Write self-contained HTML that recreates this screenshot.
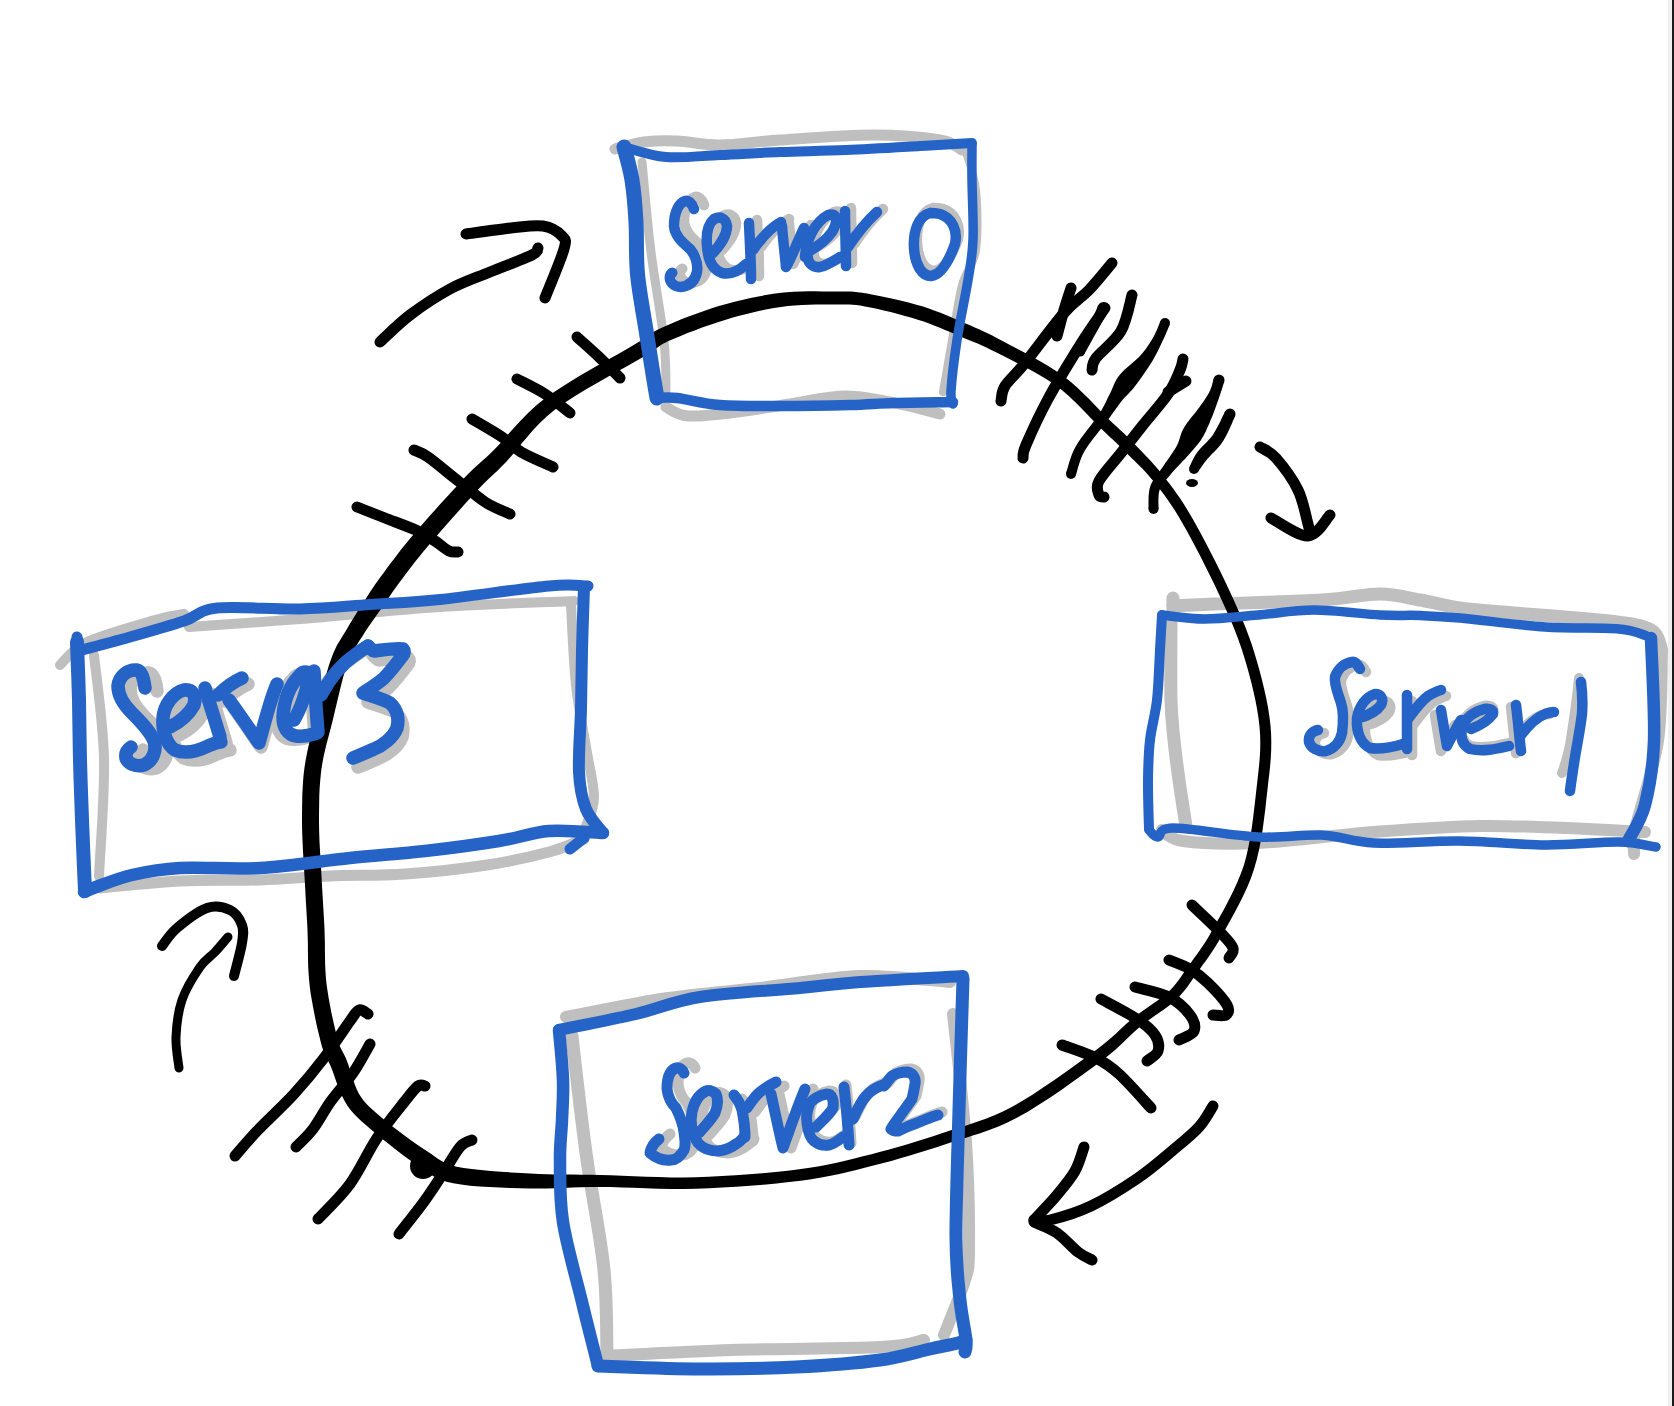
<!DOCTYPE html>
<html><head><meta charset="utf-8">
<style>
html,body{margin:0;padding:0;background:#fff;}
body{width:1674px;height:1406px;overflow:hidden;position:relative;font-family:"Liberation Sans",sans-serif;}
svg{position:absolute;left:0;top:0;}
.edge1{position:absolute;left:1668px;top:0;width:4px;height:1406px;background:#efefef;}
.edge2{position:absolute;left:1672px;top:0;width:2px;height:1406px;background:#1a1a1a;}
</style></head>
<body>
<svg width="1674" height="1406" viewBox="0 0 1674 1406" fill="none" stroke-linecap="round" stroke-linejoin="round">
<defs>
<!-- TEXT -->
<g id="t0" stroke-width="10.5">
<path id="t0_0" d="M694 209 C692 203 688 200 685 201 C679 203 674 212 674 226 C675 236 682 242 690 249 C696 256 698 264 697 272 C695 281 689 286 681 287 C673 287 669 281 670 276 C671 273 673 272 672 273"/>
<path id="t0_1" d="M713 253 C720 245 727 236 727 226 C726 218 720 216 714 219 C708 224 706 235 707 246 C708 260 713 270 722 273 C732 275 740 270 746 264"/>
<path id="t0_2" d="M749 223 C750 245 751 262 751 279 M753 250 C760 240 770 228 781 222"/>
<path id="t0_3" d="M782 226 C783 240 785 255 786 267 C793 255 798 240 804 228"/>
<path id="t0_4" d="M805 257 C806 240 815 222 828 215 C838 212 838 222 832 232 C825 242 815 248 808 252 C806 262 812 268 820 267 C828 265 835 260 840 257"/>
<path id="t0_5" d="M845 211 C845 230 846 250 846 266 M848 247 C856 235 866 222 877 212"/>
<path id="t0_6" d="M930 213 C918 216 913 232 914 248 C915 265 922 276 931 276 C942 275 950 258 955 244 C958 230 952 218 940 214 C936 213 933 213 930 213"/>
</g>
<g id="t3" stroke-width="13.5">
<path id="t3_0" d="M145 688 C144 679 142 671 137 670 C128 669 119 676 118 686 C118 696 124 705 132 713 C141 722 150 731 154 741 C157 750 153 761 144 765 C136 767 128 764 126 758 C125 752 128 749 131 747"/>
<path id="t3_1" d="M170 727 C178 723 188 716 194 705 C197 695 192 689 184 690 C173 693 164 705 163 718 C162 732 167 745 175 750 C187 755 200 750 208 746 C213 744 217 742 221 742"/>
<path id="t3_2" d="M205 688 C210 705 215 720 220 737 M218 695 C225 688 233 682 242 678"/>
<path id="t3_3" d="M229 700 C240 715 250 730 259 743 C264 725 270 700 277 684"/>
<path id="t3_4" d="M294 720 C300 710 308 690 309 673 C306 671 302 672 300 675 C290 685 284 700 283 717 C283 728 288 735 296 736 C304 737 311 735 317 733"/>
<path id="t3_5" d="M314 671 C315 690 316 710 318 732 M321 695 C328 682 340 665 355 655 C360 651 365 648 368 646"/>
<path id="t3_6" d="M368 646 C371 649 373 651 374 651 C383 650 395 648 403 649 C405 651 404 654 403 655 C397 663 390 672 384 678 C377 684 369 689 363 693 C372 696 385 700 390 703 C398 710 399 720 397 728 C393 738 382 746 374 749 C365 753 358 756 353 758"/>
</g>
<g id="t1" stroke-width="10.5">
<path id="t1_0" d="M1360 669 C1357 664 1355 661 1352 662 C1345 663 1338 668 1335 677 C1334 685 1338 693 1341 703 C1344 712 1343 725 1342 733 C1340 742 1334 749 1326 751 C1318 752 1311 748 1309 742 C1308 735 1313 731 1318 730"/>
<path id="t1_1" d="M1363 717 C1370 714 1377 711 1381 705 C1384 699 1381 694 1375 694 C1366 697 1359 706 1357 718 C1356 732 1361 744 1370 748 C1382 750 1393 747 1403 744"/>
<path id="t1_2" d="M1407 695 C1407 715 1407 732 1407 749 M1408 719 C1414 711 1420 702 1428 696 C1433 693 1437 691 1441 690"/>
<path id="t1_3" d="M1441 710 C1443 722 1445 735 1447 746 C1451 738 1456 728 1461 720"/>
<path id="t1_4" d="M1471 729 C1479 726 1488 721 1493 714 C1494 710 1490 708 1484 709 C1475 711 1465 718 1462 727 C1460 737 1462 745 1470 749 C1483 752 1496 749 1509 746"/>
<path id="t1_5" d="M1516 705 C1518 720 1519 735 1521 751 M1521 735 C1528 726 1535 718 1545 714 C1548 713 1551 712 1554 712"/>
<path id="t1_6" d="M1581 682 C1582 690 1583 700 1582 714 C1580 730 1577 745 1575 757 C1573 770 1571 782 1570 791"/>
</g>
<g id="t2" stroke-width="11">
<path id="t2_0" d="M684 1073 C682 1069 679 1067 676 1068 C670 1070 667 1078 667 1089 C668 1098 672 1104 676 1108 C680 1116 683 1124 684 1132 C685 1140 686 1146 684 1150 C680 1157 676 1160 671 1160 C663 1161 656 1158 650 1153 C651 1147 655 1142 659 1139"/>
<path id="t2_1" d="M699 1133 C705 1126 711 1120 715 1113 C718 1105 718 1098 716 1094 C712 1090 708 1090 706 1091 C698 1095 694 1102 692 1112 C690 1122 692 1134 698 1143 C704 1150 712 1151 718 1151 C726 1150 732 1147 736 1144 C740 1142 742 1139 744 1137"/>
<path id="t2_2" d="M734 1095 C738 1100 741 1106 742 1110 C744 1120 745 1128 745 1137 M747 1108 C751 1102 755 1096 760 1092 C765 1088 770 1085 776 1082"/>
<path id="t2_3" d="M771 1094 C775 1112 779 1132 783 1148 C790 1128 797 1108 805 1089"/>
<path id="t2_4" d="M816 1127 C822 1121 829 1115 833 1108 C834 1100 832 1094 827 1094 C819 1095 812 1100 810 1103 C807 1110 806 1117 807 1123 C808 1132 810 1138 814 1141 C819 1145 824 1146 829 1145 C834 1144 839 1140 843 1137"/>
<path id="t2_5" d="M844 1087 C846 1105 848 1125 849 1145 M853 1119 C857 1110 861 1101 866 1096 C871 1090 877 1087 883 1085"/>
<path id="t2_6" d="M884 1086 C887 1082 889 1079 892 1076 C897 1073 902 1072 907 1072 C913 1073 916 1078 915 1084 C914 1090 913 1095 912 1099 C908 1105 905 1109 902 1113 C898 1119 894 1124 891 1129 C893 1131 895 1131 898 1131 C904 1128 911 1125 917 1123 C924 1120 931 1117 938 1115"/>
</g>
</defs>
<g stroke="#bfbfbf" stroke-width="11">
<path d="M615 149 C619.8 147.8 633.7 143.3 644 142 C654.3 140.7 664.3 140.5 677 141 C689.7 141.5 702.8 145.2 720 145 C737.2 144.8 754.5 141.7 780 140 C805.5 138.3 846.3 135.0 873 135 C899.7 135.0 925.2 137.5 940 140 C954.8 142.5 958.3 148.3 962 150" stroke-width="11"/>
<path d="M642 162 C643.5 177.0 647.3 222.2 651 252 C654.7 281.8 661.5 317.8 664 341 C666.5 364.2 665.7 382.7 666 391" stroke-width="9"/>
<path d="M966 152 C967.7 158.3 974.3 173.7 976 190 C977.7 206.3 978.3 234.2 976 250 C973.7 265.8 966.0 270.0 962 285 C958.0 300.0 955.2 322.2 952 340 C948.8 357.8 944.5 383.3 943 392" stroke-width="8"/>
<path d="M666 407 C669.7 408.5 676.0 415.2 688 416 C700.0 416.8 721.0 414.0 738 412 C755.0 410.0 772.0 406.7 790 404 C808.0 401.3 827.7 396.0 846 396 C864.3 396.0 884.3 401.0 900 404 C915.7 407.0 933.3 412.3 940 414" stroke-width="11"/>
<path d="M60 665 C64.5 661.2 71.2 649.5 87 642 C102.8 634.5 138.8 624.7 155 620 C171.2 615.3 179.2 615.0 184 614" stroke-width="10"/>
<path d="M189 627 C207.5 625.7 258.2 622.3 300 619 C341.8 615.7 394.3 610.0 440 607 C485.7 604.0 551.7 602.0 574 601" stroke-width="10"/>
<path d="M94 655 C95.7 672.3 103.2 722.2 104 759 C104.8 795.8 99.8 856.5 99 876" stroke-width="10"/>
<path d="M571 605 C571.8 618.3 573.5 661.3 576 685 C578.5 708.7 583.0 728.3 586 747 C589.0 765.7 594.0 783.8 594 797 C594.0 810.2 587.3 821.2 586 826" stroke-width="10"/>
<path d="M100 888 C113.3 886.8 153.3 882.3 180 881 C206.7 879.7 235.0 880.8 260 880 C285.0 879.2 305.8 877.0 330 876 C354.2 875.0 378.8 875.8 405 874 C431.2 872.2 463.0 868.7 487 865 C511.0 861.3 532.8 856.3 549 852 C565.2 847.7 578.2 841.2 584 839" stroke-width="11"/>
<path d="M1173 598 L1173 610" stroke-width="13"/>
<path d="M1173 606 C1180.0 605.7 1190.2 605.0 1215 604 C1239.8 603.0 1294.5 601.7 1322 600 C1349.5 598.3 1363.7 594.0 1380 594 C1396.3 594.0 1406.7 597.7 1420 600 C1433.3 602.3 1446.3 606.0 1460 608 C1473.7 610.0 1477.2 609.8 1502 612 C1526.8 614.2 1584.2 618.0 1609 621 C1633.8 624.0 1642.2 625.0 1651 630 C1659.8 635.0 1660.2 647.5 1662 651" stroke-width="13"/>
<path d="M1171 623 C1171.0 635.8 1170.5 680.5 1171 700 C1171.5 719.5 1172.7 726.7 1174 740 C1175.3 753.3 1177.0 765.7 1179 780 C1181.0 794.3 1184.8 818.3 1186 826" stroke-width="13"/>
<path d="M1662 651 C1661.3 666.0 1662.3 711.8 1658 741 C1653.7 770.2 1640.0 807.2 1636 826 C1632.0 844.8 1634.3 849.3 1634 854" stroke-width="12"/>
<path d="M1162 830 C1165.5 831.8 1167.0 838.8 1183 841 C1199.0 843.2 1226.2 844.5 1258 843 C1289.8 841.5 1336.8 834.8 1374 832 C1411.2 829.2 1445.5 826.5 1481 826 C1516.5 825.5 1559.7 828.0 1587 829 C1614.3 830.0 1635.3 831.5 1645 832" stroke-width="12"/>
<path d="M566 1017 C583.0 1013.8 635.7 1002.8 668 998 C700.3 993.2 728.0 991.7 760 988 C792.0 984.3 828.3 977.0 860 976 C891.7 975.0 935.0 981.0 950 982" stroke-width="12"/>
<path d="M572 1036 C572.8 1043.3 574.5 1059.3 577 1080 C579.5 1100.7 582.5 1128.3 587 1160 C591.5 1191.7 600.7 1237.3 604 1270 C607.3 1302.7 606.5 1341.7 607 1356" stroke-width="13"/>
<path d="M953 1014 C955.2 1035.3 963.3 1102.7 966 1142 C968.7 1181.3 969.2 1227.0 969 1250 C968.8 1273.0 968.2 1268.3 965 1280 C961.8 1291.7 953.5 1310.8 950 1320 C946.5 1329.2 945.0 1332.5 944 1335" stroke-width="12"/>
<path d="M604 1356 C625.3 1355.0 686.0 1351.5 732 1350 C778.0 1348.5 848.0 1348.7 880 1347 C912.0 1345.3 916.7 1341.2 924 1340" stroke-width="12"/>
<use href="#t0_0" stroke-width="10.5" transform="translate(10,-4)"/>
<use href="#t0_1" stroke-width="10.5" transform="translate(9,-3)"/>
<use href="#t0_2" stroke-width="10.5" transform="translate(8,-3)"/>
<use href="#t0_3" stroke-width="10.5" transform="translate(7,-3)"/>
<use href="#t0_4" stroke-width="10.5" transform="translate(6,-3)"/>
<use href="#t0_5" stroke-width="10.5" transform="translate(6,-3)"/>
<use href="#t0_6" stroke-width="10.5" transform="translate(3,-5)"/>
<use href="#t3_0" stroke-width="13.5" transform="translate(12,3)"/>
<use href="#t3_1" stroke-width="13.5" transform="translate(9,8)"/>
<use href="#t3_2" stroke-width="13.5" transform="translate(6,6)"/>
<use href="#t3_3" stroke-width="13.5" transform="translate(2,4)"/>
<use href="#t3_4" stroke-width="13.5" transform="translate(-6,3)"/>
<use href="#t3_5" stroke-width="13.5" transform="translate(-3,3)"/>
<use href="#t3_6" stroke-width="13.5" transform="translate(5,9)"/>
<use href="#t1_0" stroke-width="10.5" transform="translate(6,3)"/>
<use href="#t1_1" stroke-width="10.5" transform="translate(8,7)"/>
<use href="#t1_2" stroke-width="10.5" transform="translate(5,6)"/>
<use href="#t1_3" stroke-width="10.5" transform="translate(-6,5)"/>
<use href="#t1_4" stroke-width="10.5" transform="translate(0,-3)"/>
<use href="#t1_5" stroke-width="10.5" transform="translate(-5,2)"/>
<use href="#t2_0" stroke-width="11" transform="translate(11,-5)"/>
<use href="#t2_1" stroke-width="11" transform="translate(10,2)"/>
<use href="#t2_2" stroke-width="11" transform="translate(8,4)"/>
<use href="#t2_3" stroke-width="11" transform="translate(8,0)"/>
<use href="#t2_4" stroke-width="11" transform="translate(3,-3)"/>
<use href="#t2_5" stroke-width="11" transform="translate(2,-2)"/>
<use href="#t2_6" stroke-width="11" transform="translate(4,-3)"/>
<path d="M1579 678 C1577 700 1574 720 1570 745 C1567 760 1564 768 1562 773" stroke-width="10"/>
</g>
<path fill="#000" stroke="none" fill-rule="nonzero" d="M780.9 306.9 L787.8 306.1 L794.7 305.5 L801.8 305.1 L808.8 304.8 L815.6 304.6 L822.1 304.6 L828.3 304.5 L834.0 304.5 L838.9 304.5 L843.0 304.4 L846.6 304.4 L849.7 304.5 L852.8 304.7 L856.2 305.0 L860.1 305.6 L864.9 306.4 L870.5 307.5 L876.8 308.8 L883.7 310.4 L890.7 312.1 L897.9 314.0 L905.0 315.9 L911.7 317.8 L917.9 319.7 L923.7 321.6 L929.2 323.6 L934.6 325.7 L939.9 327.8 L945.0 329.9 L950.1 332.1 L955.2 334.3 L960.3 336.4 L965.0 338.4 L969.4 340.2 L973.6 341.9 L977.7 343.6 L981.9 345.5 L986.4 347.5 L991.3 349.9 L997.0 352.8 L1003.5 356.1 L1010.8 359.7 L1018.5 363.7 L1026.5 367.8 L1034.6 372.2 L1042.4 376.7 L1049.7 381.2 L1056.4 385.8 L1062.7 390.7 L1068.8 396.0 L1074.8 401.7 L1080.6 407.5 L1086.2 413.2 L1091.4 418.7 L1096.3 423.8 L1100.8 428.3 L1104.7 432.0 L1107.8 434.9 L1110.4 437.4 L1112.8 439.5 L1114.9 441.6 L1117.2 443.7 L1119.7 446.2 L1122.7 449.2 L1126.2 452.7 L1130.0 456.4 L1133.9 460.2 L1137.9 464.2 L1142.0 468.3 L1146.0 472.6 L1149.9 477.0 L1153.7 481.5 L1157.4 486.0 L1160.9 490.5 L1164.3 495.0 L1167.7 499.7 L1171.1 504.7 L1174.6 510.1 L1178.3 516.1 L1182.2 522.8 L1186.5 530.3 L1191.1 538.7 L1195.9 547.8 L1200.9 557.3 L1205.7 566.9 L1210.5 576.4 L1214.9 585.6 L1219.0 594.3 L1222.8 602.4 L1226.3 610.2 L1229.6 617.7 L1232.7 625.1 L1235.7 632.5 L1238.5 639.9 L1241.2 647.6 L1243.7 655.6 L1246.3 664.1 L1248.8 673.0 L1251.2 682.0 L1253.4 691.2 L1255.4 700.3 L1257.1 709.3 L1258.5 718.1 L1259.5 726.5 L1260.1 734.5 L1260.3 742.1 L1260.2 749.4 L1259.8 756.8 L1259.2 764.2 L1258.4 771.8 L1257.5 779.8 L1256.5 788.4 L1255.5 797.5 L1254.4 807.1 L1253.2 817.0 L1251.9 827.0 L1250.3 837.0 L1248.4 846.9 L1246.3 856.4 L1243.8 865.4 L1240.7 874.1 L1237.1 882.8 L1233.1 891.6 L1228.8 900.1 L1224.4 908.4 L1220.1 916.2 L1215.9 923.6 L1212.2 930.3 L1208.9 936.2 L1205.7 941.4 L1202.7 946.1 L1199.8 950.3 L1197.0 954.3 L1194.2 958.1 L1191.4 961.9 L1188.5 965.8 L1185.8 969.7 L1183.3 973.3 L1181.0 976.7 L1178.7 979.9 L1176.4 982.9 L1174.0 985.9 L1171.3 988.9 L1168.2 992.0 L1164.8 995.0 L1161.0 998.0 L1156.9 1001.0 L1152.5 1004.1 L1147.9 1007.2 L1143.2 1010.5 L1138.4 1014.0 L1133.5 1017.7 L1129.0 1021.6 L1124.7 1025.3 L1120.7 1029.1 L1116.6 1032.9 L1112.1 1037.0 L1107.1 1041.3 L1101.3 1046.0 L1094.4 1051.2 L1086.1 1057.3 L1076.5 1064.2 L1066.1 1071.7 L1055.1 1079.5 L1043.9 1087.1 L1032.8 1094.4 L1022.1 1101.1 L1012.2 1106.7 L1002.9 1111.4 L993.9 1115.4 L985.1 1119.0 L976.3 1122.1 L967.7 1125.0 L958.9 1127.8 L950.1 1130.6 L941.2 1133.5 L932.3 1136.5 L923.5 1139.3 L914.7 1142.1 L905.9 1144.8 L897.1 1147.3 L888.3 1149.8 L879.5 1152.1 L870.6 1154.4 L861.9 1156.6 L853.4 1158.8 L845.2 1160.8 L836.8 1162.7 L828.3 1164.5 L819.3 1166.2 L809.7 1167.8 L799.3 1169.3 L787.8 1170.7 L775.5 1172.0 L762.5 1173.2 L749.1 1174.3 L735.4 1175.3 L721.9 1176.1 L708.6 1176.8 L695.8 1177.3 L683.4 1177.5 L670.9 1177.4 L658.4 1177.1 L646.1 1176.7 L634.0 1176.2 L622.2 1175.8 L610.9 1175.3 L600.1 1175.0 L590.0 1174.8 L580.7 1174.7 L572.0 1174.6 L563.6 1174.5 L555.4 1174.4 L547.3 1174.2 L539.0 1173.9 L530.3 1173.5 L520.9 1173.0 L511.0 1172.4 L500.8 1171.7 L490.7 1171.0 L481.0 1170.1 L471.8 1169.1 L463.7 1168.0 L456.7 1166.7 L451.3 1165.3 L447.0 1163.8 L443.7 1162.3 L440.8 1160.6 L437.9 1158.7 L434.7 1156.4 L431.0 1153.8 L426.7 1150.9 L422.1 1147.9 L417.3 1144.7 L412.3 1141.2 L407.2 1137.6 L402.1 1133.8 L397.2 1130.1 L392.5 1126.4 L388.1 1122.8 L383.9 1119.4 L379.8 1116.0 L376.0 1112.8 L372.3 1109.6 L369.0 1106.5 L365.9 1103.3 L363.1 1100.0 L360.7 1096.6 L358.5 1092.9 L356.5 1088.7 L354.7 1084.2 L353.1 1079.5 L351.5 1074.7 L350.0 1069.9 L348.5 1065.2 L346.9 1060.8 L345.3 1057.0 L343.8 1054.0 L342.5 1051.5 L341.4 1049.4 L340.4 1047.4 L339.4 1045.0 L338.4 1041.9 L337.2 1037.8 L335.9 1032.5 L334.4 1026.3 L332.9 1019.5 L331.3 1012.2 L329.9 1004.7 L328.5 997.2 L327.4 989.9 L326.4 983.0 L325.8 976.5 L325.4 969.9 L325.1 963.4 L325.0 956.7 L324.9 950.1 L324.9 943.3 L324.7 936.5 L324.5 929.6 L324.2 922.8 L323.8 916.0 L323.4 909.3 L323.0 902.5 L322.6 895.8 L322.2 889.0 L321.8 882.3 L321.5 875.5 L321.1 868.8 L320.7 862.0 L320.3 855.2 L319.9 848.5 L319.5 841.8 L319.3 835.2 L319.1 828.6 L319.0 822.0 L319.0 815.3 L319.1 808.5 L319.2 801.8 L319.3 795.2 L319.6 788.6 L320.1 782.0 L320.7 775.5 L321.4 769.2 L322.4 762.9 L323.6 756.6 L325.0 750.4 L326.5 744.1 L328.2 737.7 L329.9 731.3 L331.6 724.7 L333.3 718.0 L334.9 711.1 L336.6 704.0 L338.3 696.8 L340.0 689.7 L341.7 682.7 L343.5 676.1 L345.3 670.1 L347.0 664.8 L348.7 660.3 L350.4 656.5 L352.1 653.0 L353.9 649.9 L355.7 646.8 L357.7 643.6 L359.9 640.1 L362.3 636.4 L364.7 632.6 L367.3 628.6 L370.1 624.6 L372.9 620.5 L375.7 616.4 L378.5 612.5 L381.2 608.7 L383.7 605.2 L385.9 602.0 L387.8 599.1 L389.5 596.5 L391.2 594.1 L392.9 591.6 L394.7 588.9 L396.9 586.0 L399.4 582.5 L402.3 578.7 L405.2 574.7 L408.4 570.6 L411.7 566.2 L415.3 561.6 L419.2 556.7 L423.4 551.5 L428.1 546.0 L433.4 539.8 L439.4 532.7 L446.0 525.2 L452.8 517.5 L459.6 509.9 L466.2 502.6 L472.3 495.9 L477.5 490.2 L481.9 485.6 L485.4 482.0 L488.5 479.0 L491.4 476.3 L494.4 473.5 L497.7 470.4 L501.5 466.6 L506.1 461.9 L511.2 456.3 L516.4 450.1 L521.6 443.6 L527.2 436.9 L533.1 430.0 L539.6 423.2 L546.7 416.5 L554.5 410.0 L563.9 403.3 L575.1 396.1 L587.4 388.6 L600.2 381.2 L612.8 374.0 L624.7 367.4 L635.3 361.4 L643.9 356.4 L650.1 352.5 L654.5 349.6 L657.5 347.5 L659.6 346.0 L661.0 345.0 L662.5 344.0 L665.0 342.7 L669.1 340.8 L674.5 338.5 L680.7 335.9 L687.5 333.1 L694.7 330.4 L702.1 327.6 L709.6 324.9 L717.0 322.4 L724.2 320.2 L731.2 318.1 L738.3 316.1 L745.5 314.2 L752.7 312.4 L759.9 310.8 L767.0 309.3 L774.0 308.0 Z M771.8 294.1 L764.4 295.3 L757.0 296.7 L749.5 298.2 L742.0 299.9 L734.6 301.8 L727.2 303.7 L719.8 305.8 L712.4 308.1 L704.7 310.7 L697.0 313.4 L689.3 316.3 L681.9 319.1 L675.0 322.0 L668.6 324.7 L662.9 327.2 L658.5 329.2 L655.2 330.9 L652.7 332.4 L650.7 333.9 L648.7 335.4 L646.1 337.2 L642.1 339.9 L636.1 343.6 L627.8 348.4 L617.4 354.4 L605.5 361.1 L592.8 368.3 L579.8 375.8 L567.3 383.4 L555.6 390.9 L545.5 398.0 L536.7 405.0 L528.8 412.2 L521.7 419.4 L515.2 426.4 L509.3 433.1 L503.8 439.4 L498.7 445.1 L493.9 450.1 L489.5 454.3 L485.8 457.7 L482.6 460.6 L479.6 463.2 L476.5 466.0 L473.0 469.2 L469.1 473.1 L464.5 477.8 L459.0 483.7 L452.8 490.4 L446.1 497.7 L439.2 505.3 L432.3 513.1 L425.6 520.6 L419.4 527.7 L413.9 534.0 L409.1 539.7 L404.8 545.1 L400.7 550.1 L397.0 554.9 L393.6 559.4 L390.4 563.6 L387.4 567.6 L384.6 571.5 L382.0 575.0 L379.7 578.1 L377.7 580.9 L375.8 583.6 L374.1 586.1 L372.3 588.8 L370.4 591.6 L368.3 594.8 L366.0 598.4 L363.4 602.3 L360.8 606.4 L358.1 610.6 L355.4 614.9 L352.7 619.3 L350.1 623.5 L347.7 627.6 L345.6 631.2 L343.5 634.6 L341.4 637.9 L339.3 641.4 L337.1 645.1 L335.1 649.3 L333.0 653.9 L331.0 659.2 L329.0 665.1 L327.1 671.6 L325.3 678.5 L323.5 685.6 L321.7 692.9 L320.0 700.1 L318.4 707.2 L316.7 714.0 L315.1 720.5 L313.4 726.9 L311.7 733.4 L310.0 739.9 L308.4 746.5 L307.0 753.2 L305.7 760.0 L304.6 766.8 L303.7 773.8 L303.1 780.7 L302.7 787.6 L302.3 794.6 L302.2 801.5 L302.1 808.4 L302.0 815.2 L302.0 822.0 L302.1 828.9 L302.3 835.8 L302.6 842.7 L302.9 849.5 L303.3 856.3 L303.7 863.0 L304.1 869.7 L304.5 876.5 L304.9 883.2 L305.3 890.0 L305.6 896.7 L306.0 903.5 L306.4 910.2 L306.8 917.0 L307.2 923.7 L307.5 930.4 L307.7 937.0 L307.9 943.6 L307.9 950.3 L308.0 957.0 L308.1 963.8 L308.4 970.8 L308.9 977.8 L309.6 985.0 L310.5 992.4 L311.8 1000.0 L313.2 1007.8 L314.7 1015.6 L316.2 1023.1 L317.8 1030.1 L319.4 1036.5 L320.8 1042.2 L322.1 1047.0 L323.5 1050.9 L324.8 1054.2 L326.1 1057.0 L327.4 1059.4 L328.5 1061.7 L329.8 1064.2 L331.1 1067.2 L332.6 1070.9 L334.1 1075.2 L335.7 1080.0 L337.5 1085.0 L339.5 1090.2 L341.8 1095.4 L344.4 1100.6 L347.3 1105.4 L350.6 1109.9 L354.1 1114.0 L357.8 1117.8 L361.7 1121.4 L365.6 1124.8 L369.6 1128.2 L373.7 1131.7 L377.9 1135.2 L382.4 1138.9 L387.2 1142.8 L392.2 1146.8 L397.3 1150.8 L402.5 1154.7 L407.6 1158.4 L412.6 1162.0 L417.3 1165.1 L421.3 1167.8 L424.7 1170.3 L428.1 1172.8 L431.7 1175.3 L435.9 1177.6 L440.8 1179.8 L446.5 1181.7 L453.3 1183.3 L461.1 1184.6 L470.0 1185.7 L479.6 1186.5 L489.6 1187.1 L500.0 1187.6 L510.3 1188.0 L520.3 1188.3 L529.7 1188.5 L538.7 1188.6 L547.2 1188.5 L555.5 1188.3 L563.8 1188.0 L572.2 1187.6 L580.8 1187.3 L590.0 1187.1 L599.9 1187.0 L610.5 1187.1 L621.8 1187.4 L633.5 1187.8 L645.7 1188.3 L658.1 1188.7 L670.8 1188.9 L683.5 1189.0 L696.2 1188.7 L709.1 1188.3 L722.5 1187.6 L736.2 1186.8 L749.9 1185.8 L763.5 1184.7 L776.6 1183.4 L789.1 1182.1 L800.7 1180.7 L811.4 1179.2 L821.3 1177.5 L830.5 1175.8 L839.3 1173.9 L847.8 1172.0 L856.2 1169.9 L864.7 1167.8 L873.4 1165.6 L882.4 1163.3 L891.3 1160.9 L900.2 1158.3 L909.1 1155.7 L918.0 1153.1 L926.9 1150.3 L935.9 1147.4 L944.8 1144.5 L953.6 1141.6 L962.4 1138.9 L971.2 1136.1 L980.2 1133.2 L989.2 1130.0 L998.5 1126.4 L1008.0 1122.2 L1017.8 1117.3 L1028.2 1111.4 L1039.2 1104.6 L1050.6 1097.2 L1062.0 1089.4 L1073.1 1081.6 L1083.6 1074.0 L1093.2 1067.0 L1101.6 1060.8 L1108.7 1055.3 L1114.8 1050.3 L1119.9 1045.6 L1124.4 1041.3 L1128.5 1037.3 L1132.4 1033.5 L1136.3 1029.9 L1140.5 1026.3 L1145.0 1022.8 L1149.5 1019.4 L1154.1 1016.2 L1158.7 1013.1 L1163.2 1009.9 L1167.6 1006.8 L1171.8 1003.5 L1175.8 1000.0 L1179.3 996.5 L1182.3 993.1 L1185.1 989.7 L1187.6 986.4 L1190.0 983.0 L1192.4 979.5 L1194.8 975.9 L1197.5 972.2 L1200.2 968.4 L1203.0 964.6 L1205.9 960.7 L1208.8 956.6 L1211.9 952.1 L1215.0 947.2 L1218.3 941.8 L1221.8 935.7 L1225.5 929.0 L1229.7 921.6 L1234.1 913.6 L1238.6 905.1 L1243.0 896.3 L1247.2 887.2 L1251.0 878.0 L1254.2 868.6 L1256.9 859.1 L1259.2 849.1 L1261.1 838.9 L1262.8 828.6 L1264.1 818.4 L1265.4 808.4 L1266.4 798.7 L1267.5 789.6 L1268.4 781.1 L1269.4 773.0 L1270.2 765.2 L1270.8 757.5 L1271.2 749.8 L1271.3 742.0 L1271.1 733.9 L1270.5 725.5 L1269.4 716.6 L1268.0 707.4 L1266.2 698.1 L1264.1 688.7 L1261.8 679.3 L1259.4 670.1 L1256.8 661.1 L1254.3 652.4 L1251.6 644.1 L1248.8 636.2 L1245.9 628.5 L1242.9 620.9 L1239.7 613.4 L1236.3 605.7 L1232.8 597.9 L1229.0 589.7 L1224.9 580.9 L1220.3 571.6 L1215.6 561.9 L1210.6 552.2 L1205.7 542.7 L1200.8 533.5 L1196.1 525.0 L1191.8 517.2 L1187.7 510.4 L1183.9 504.2 L1180.2 498.6 L1176.6 493.4 L1173.1 488.5 L1169.5 483.8 L1166.0 479.2 L1162.3 474.5 L1158.4 469.8 L1154.3 465.1 L1150.3 460.6 L1146.2 456.2 L1142.2 452.0 L1138.3 448.0 L1134.7 444.3 L1131.3 440.8 L1128.2 437.7 L1125.6 435.1 L1123.3 432.8 L1121.0 430.7 L1118.6 428.5 L1116.0 426.1 L1112.9 423.2 L1109.2 419.7 L1104.8 415.4 L1100.0 410.4 L1094.8 404.9 L1089.1 399.1 L1083.1 393.2 L1076.9 387.2 L1070.3 381.5 L1063.6 376.2 L1056.4 371.2 L1048.7 366.3 L1040.6 361.5 L1032.5 356.9 L1024.4 352.5 L1016.7 348.4 L1009.5 344.7 L1003.0 341.2 L997.3 338.2 L992.2 335.6 L987.5 333.3 L983.2 331.2 L979.0 329.3 L974.8 327.5 L970.5 325.6 L965.7 323.6 L960.8 321.4 L955.7 319.2 L950.6 317.0 L945.3 314.7 L939.8 312.5 L934.1 310.4 L928.2 308.3 L922.1 306.3 L915.5 304.4 L908.5 302.5 L901.3 300.7 L893.9 299.0 L886.6 297.4 L879.6 295.9 L873.0 294.7 L867.1 293.6 L862.1 292.8 L857.7 292.2 L853.9 291.8 L850.3 291.6 L846.7 291.5 L843.0 291.5 L838.9 291.5 L834.0 291.5 L828.4 291.4 L822.1 291.4 L815.5 291.3 L808.5 291.3 L801.2 291.5 L793.9 291.8 L786.4 292.3 L779.1 293.1 Z"/>
<circle cx="423" cy="1166" r="13" fill="#000"/>
<g stroke="#2563c6">
<use href="#t0"/><use href="#t3"/><use href="#t1"/><use href="#t2"/>
</g>
<g stroke="#2563c6" stroke-width="11">
<path d="M624 147 C631.0 148.7 650.0 155.7 666 157 C682.0 158.3 701.0 155.8 720 155 C739.0 154.2 759.0 152.8 780 152 C801.0 151.2 822.7 151.0 846 150 C869.3 149.0 899.0 147.2 920 146 C941.0 144.8 963.3 143.5 972 143" stroke-width="10"/>
<path d="M624 147 C625.3 152.5 630.0 167.5 632 180 C634.0 192.5 635.1 206.3 636 222 C636.9 237.7 635.8 256.0 637.5 274 C639.2 292.0 643.4 313.3 646 330 C648.6 346.7 651.2 362.7 653 374 C654.8 385.3 656.3 394.0 657 398" stroke-width="15"/>
<path d="M657 398 C660.3 398.0 666.5 396.8 677 398 C687.5 399.2 702.8 403.7 720 405 C737.2 406.3 758.3 406.0 780 406 C801.7 406.0 831.0 405.5 850 405 C869.0 404.5 876.8 403.5 894 403 C911.2 402.5 943.2 402.2 953 402" stroke-width="10.5"/>
<path d="M972 145 C972.0 150.8 971.8 164.2 972 180 C972.2 195.8 973.7 223.3 973 240 C972.3 256.7 970.7 263.3 968 280 C965.3 296.7 959.8 321.5 957 340 C954.2 358.5 951.7 380.3 951 391 C950.3 401.7 952.7 401.8 953 404" stroke-width="9.5"/>
<path d="M78 651 C86.7 648.7 112.3 642.0 130 637 C147.7 632.0 169.5 625.8 184 621 C198.5 616.2 197.7 610.0 217 608 C236.3 606.0 274.5 609.6 300 609 C325.5 608.4 346.7 606.1 370 604.5 C393.3 602.9 410.2 602.6 440 599.5 C469.8 596.4 524.3 588.2 549 586 C573.7 583.8 581.5 586.0 588 586" stroke-width="11"/>
<path d="M77 637 L80 651" stroke-width="11"/>
<path d="M77 642 C77.3 651.7 78.5 680.3 79 700 C79.5 719.7 79.5 740.0 80 760 C80.5 780.0 81.2 798.2 82 820 C82.8 841.8 84.5 879.2 85 891" stroke-width="14"/>
<path d="M584 587 C583.7 597.5 582.5 629.7 582 650 C581.5 670.3 581.5 688.7 581 709 C580.5 729.3 578.2 755.3 579 772 C579.8 788.7 582.0 798.8 586 809 C590.0 819.2 600.2 829.0 603 833" stroke-width="12"/>
<path d="M84 892 C86.0 891.2 88.0 889.8 96 887 C104.0 884.2 118.0 878.2 132 875 C146.0 871.8 158.7 869.2 180 868 C201.3 866.8 231.7 869.7 260 868 C288.3 866.3 322.5 860.8 350 858 C377.5 855.2 400.2 853.8 425 851 C449.8 848.2 478.3 844.3 499 841 C519.7 837.7 531.7 832.3 549 831 C566.3 829.7 594.0 832.7 603 833" stroke-width="12.5"/>
<path d="M570 849 L584 838" stroke-width="11"/>
<path d="M1162 615 C1169.2 615.7 1189.0 619.0 1205 619 C1221.0 619.0 1239.8 616.5 1258 615 C1276.2 613.5 1293.7 610.0 1314 610 C1334.3 610.0 1362.3 614.1 1380 615 C1397.7 615.9 1406.7 615.0 1420 615.5 C1433.3 616.0 1439.2 616.1 1460 618 C1480.8 619.9 1518.5 625.2 1545 627 C1571.5 628.8 1602.0 627.5 1619 629 C1636.0 630.5 1642.3 634.8 1647 636" stroke-width="9.5"/>
<path d="M1162 615 C1161.7 620.8 1160.8 635.8 1160 650 C1159.2 664.2 1158.7 685.0 1157 700 C1155.3 715.0 1151.5 726.7 1150 740 C1148.5 753.3 1148.2 765.2 1148 780 C1147.8 794.8 1148.8 820.8 1149 829" stroke-width="10"/>
<path d="M1651 638 C1651.5 655.2 1655.0 713.2 1654 741 C1653.0 768.8 1649.3 788.3 1645 805 C1640.7 821.7 1630.8 835.0 1628 841" stroke-width="12.5"/>
<path d="M1149 830 C1150.5 831.2 1154.0 837.3 1158 837 C1162.0 836.7 1156.3 828.0 1173 828 C1189.7 828.0 1233.2 835.8 1258 837 C1282.8 838.2 1302.7 834.0 1322 835 C1341.3 836.0 1351.2 842.0 1374 843 C1396.8 844.0 1430.5 840.7 1459 841 C1487.5 841.3 1518.3 844.8 1545 845 C1571.7 845.2 1600.5 841.7 1619 842 C1637.5 842.3 1649.8 846.2 1656 847" stroke-width="9.5"/>
<path d="M559 1030 C571.8 1027.3 612.5 1019.5 636 1014 C659.5 1008.5 672.7 1001.3 700 997 C727.3 992.7 773.3 990.5 800 988 C826.7 985.5 832.8 984.0 860 982 C887.2 980.0 945.8 977.0 963 976" stroke-width="12"/>
<path d="M559 1030 C559.7 1038.3 562.5 1065.0 563 1080 C563.5 1095.0 562.5 1106.7 562 1120 C561.5 1133.3 559.8 1143.0 560 1160 C560.2 1177.0 559.3 1198.3 563 1222 C566.7 1245.7 576.2 1278.0 582 1302 C587.8 1326.0 595.3 1355.3 598 1366" stroke-width="12.5"/>
<path d="M963 979 C962.3 1000.8 960.2 1066.8 959 1110 C957.8 1153.2 955.8 1206.3 956 1238 C956.2 1269.7 958.3 1283.0 960 1300 C961.7 1317.0 965.2 1331.3 966 1340 C966.8 1348.7 965.2 1350.0 965 1352" stroke-width="13"/>
<path d="M598 1366 C615.0 1366.5 667.0 1368.8 700 1369 C733.0 1369.2 766.0 1368.5 796 1367 C826.0 1365.5 857.7 1363.0 880 1360 C902.3 1357.0 917.0 1351.8 930 1349 C943.0 1346.2 952.0 1344.5 958 1343 C964.0 1341.5 964.7 1340.5 966 1340" stroke-width="13"/>
</g>
<g stroke="#000" stroke-width="11">
<path d="M380 342 C385.0 337.5 398.3 323.8 410 315 C421.7 306.2 436.7 296.2 450 289 C463.3 281.8 476.3 277.7 490 272 C503.7 266.3 524.0 259.0 532 255 C540.0 251.0 537.0 249.2 538 248"/>
<path d="M466 234 C473.5 233.0 498.2 229.3 511 228 C523.8 226.7 534.5 224.7 543 226 C551.5 227.3 558.5 232.2 562 236 C565.5 239.8 566.8 238.7 564 249 C561.2 259.3 548.2 289.8 545 298"/>
<path d="M577 337 C580.5 340.2 590.8 349.2 598 356 C605.2 362.8 616.3 374.3 620 378"/>
<path d="M517 379 C521.7 381.5 536.2 388.3 545 394 C553.8 399.7 565.8 409.8 570 413"/>
<path d="M472 419 C477.0 422.0 493.8 431.5 502 437 C510.2 442.5 512.5 447.0 521 452 C529.5 457.0 547.7 464.5 553 467"/>
<path d="M414 450 C416.3 451.2 420.8 452.0 428 457 C435.2 462.0 447.5 472.5 457 480 C466.5 487.5 476.2 496.3 485 502 C493.8 507.7 505.8 512.0 510 514"/>
<path d="M357 507 C361.7 508.8 374.8 514.0 385 518 C395.2 522.0 409.7 527.2 418 531 C426.3 534.8 429.8 537.7 435 541 C440.2 544.3 445.2 549.2 449 551 C452.8 552.8 456.5 551.8 458 552"/>
<path d="M1112 263 C1108.2 267.5 1097.0 281.7 1089 290 C1081.0 298.3 1074.7 300.8 1064 313 C1053.3 325.2 1034.8 350.8 1025 363 C1015.2 375.2 1009.0 379.7 1005 386 C1001.0 392.3 1001.7 398.5 1001 401"/>
<path d="M1071 288 C1069.8 291.7 1066.3 302.0 1064 310 C1061.7 318.0 1058.2 331.7 1057 336"/>
<path d="M1105 308 C1101.2 313.7 1091.5 326.8 1082 342 C1072.5 357.2 1057.3 381.8 1048 399 C1038.7 416.2 1030.2 435.2 1026 445 C1021.8 454.8 1023.5 455.8 1023 458"/>
<path d="M1132 295 C1130.2 301.0 1127.0 320.5 1121 331 C1115.0 341.5 1100.8 351.5 1096 358 C1091.2 364.5 1092.7 368.0 1092 370"/>
<path d="M1183 359 C1182.5 360.8 1182.5 364.2 1180 370 C1177.5 375.8 1174.2 384.8 1168 394 C1161.8 403.2 1150.8 415.2 1143 425 C1135.2 434.8 1128.3 443.7 1121 453 C1113.7 462.3 1102.7 474.0 1099 481 C1095.3 488.0 1098.2 492.3 1099 495 C1099.8 497.7 1103.2 496.7 1104 497"/>
<path d="M1168 392 L1186 381"/>
<path d="M1260 447 C1262.7 448.8 1269.7 450.8 1276 458 C1282.3 465.2 1292.7 479.0 1298 490 C1303.3 501.0 1306.0 516.8 1308 524 C1310.0 531.2 1309.7 531.5 1310 533"/>
<path d="M1271 518 C1277.2 521.0 1298.2 536.5 1308 536 C1317.8 535.5 1326.3 518.5 1330 515"/>
<path d="M1192 905 C1196.7 909.5 1213.2 924.8 1220 932 C1226.8 939.2 1231.5 943.7 1233 948 C1234.5 952.3 1229.7 956.3 1229 958"/>
<path d="M1169 960 C1172.5 961.5 1183.5 965.2 1190 969 C1196.5 972.8 1201.8 977.0 1208 983 C1214.2 989.0 1224.0 999.7 1227 1005 C1230.0 1010.3 1228.3 1013.3 1226 1015 C1223.7 1016.7 1215.2 1015.0 1213 1015"/>
<path d="M1135 987 C1140.7 988.7 1159.8 992.3 1169 997 C1178.2 1001.7 1185.8 1009.3 1190 1015 C1194.2 1020.7 1195.8 1026.8 1194 1031 C1192.2 1035.2 1181.5 1038.5 1179 1040"/>
<path d="M1101 999 C1107.0 1002.3 1128.0 1013.0 1137 1019 C1146.0 1025.0 1151.5 1029.7 1155 1035 C1158.5 1040.3 1159.3 1046.7 1158 1051 C1156.7 1055.3 1148.8 1059.3 1147 1061"/>
<path d="M1062 1045 C1067.7 1047.2 1086.5 1053.2 1096 1058 C1105.5 1062.8 1109.8 1065.7 1119 1074 C1128.2 1082.3 1145.7 1102.3 1151 1108"/>
<path d="M1213 1106 C1210.7 1109.5 1205.8 1119.5 1199 1127 C1192.2 1134.5 1182.2 1142.5 1172 1151 C1161.8 1159.5 1151.5 1168.8 1138 1178 C1124.5 1187.2 1105.7 1199.0 1091 1206 C1076.3 1213.0 1059.5 1217.7 1050 1220 C1040.5 1222.3 1036.7 1220.0 1034 1220"/>
<path d="M1084 1147 C1082.5 1151.0 1079.5 1163.0 1075 1171 C1070.5 1179.0 1063.8 1186.8 1057 1195 C1050.2 1203.2 1037.8 1215.8 1034 1220"/>
<path d="M1034 1222 C1037.8 1223.8 1049.7 1228.0 1057 1233 C1064.3 1238.0 1072.2 1247.5 1078 1252 C1083.8 1256.5 1089.7 1258.7 1092 1260"/>
<path d="M368 1014 C366.5 1013.3 362.0 1008.8 359 1010 C356.0 1011.2 355.8 1013.0 350 1021 C344.2 1029.0 333.3 1045.8 324 1058 C314.7 1070.2 305.2 1081.8 294 1094 C282.8 1106.2 266.8 1120.7 257 1131 C247.2 1141.3 238.7 1151.8 235 1156"/>
<path d="M370 1044 C367.2 1048.8 359.5 1063.5 353 1073 C346.5 1082.5 337.7 1091.7 331 1101 C324.3 1110.3 318.8 1121.3 313 1129 C307.2 1136.7 298.8 1144.0 296 1147"/>
<path d="M425 1086 C423.8 1086.0 421.3 1083.5 418 1086 C414.7 1088.5 411.8 1092.3 405 1101 C398.2 1109.7 386.2 1124.2 377 1138 C367.8 1151.8 359.8 1170.5 350 1184 C340.2 1197.5 323.3 1213.2 318 1219"/>
<path d="M472 1140 C470.0 1141.2 465.0 1141.2 460 1147 C455.0 1152.8 448.2 1165.7 442 1175 C435.8 1184.3 430.2 1193.2 423 1203 C415.8 1212.8 403.0 1228.8 399 1234"/>
<path d="M179 1068 C178.5 1062.8 175.5 1048.3 176 1037 C176.5 1025.7 178.0 1011.7 182 1000 C186.0 988.3 194.5 975.0 200 967 C205.5 959.0 210.3 957.0 215 952 C219.7 947.0 225.8 939.5 228 937" stroke-width="9"/>
<path d="M162 946 C164.5 943.0 169.5 934.3 177 928 C184.5 921.7 198.2 911.0 207 908 C215.8 905.0 224.2 907.2 230 910 C235.8 912.8 240.0 919.5 242 925 C244.0 930.5 243.3 934.5 242 943 C240.7 951.5 235.3 970.5 234 976" stroke-width="10"/>
<ellipse cx="1192" cy="483" rx="6" ry="4" fill="#000" stroke="none"/>
</g>
<g fill="#000" stroke="none">
<path d="M1160.4 321.1 L1159.9 322.3 L1159.3 323.9 L1158.5 325.8 L1157.7 327.9 L1156.8 330.1 L1155.8 332.3 L1154.7 334.5 L1153.6 336.7 L1152.3 338.9 L1150.9 341.2 L1149.5 343.5 L1147.9 345.8 L1146.3 348.2 L1144.6 350.5 L1142.7 352.8 L1140.8 355.1 L1138.6 357.4 L1136.0 359.8 L1133.2 362.2 L1130.3 364.7 L1127.4 367.3 L1124.5 369.8 L1121.9 372.5 L1119.6 375.1 L1117.7 377.6 L1116.2 379.9 L1115.0 382.2 L1114.0 384.4 L1113.1 386.5 L1112.2 388.7 L1111.2 390.9 L1110.1 393.2 L1108.9 395.7 L1107.7 398.1 L1106.6 400.5 L1105.4 402.9 L1104.1 405.4 L1102.7 408.1 L1101.1 410.9 L1099.2 414.0 L1096.9 417.4 L1094.0 421.2 L1090.9 425.3 L1087.6 429.6 L1084.2 434.0 L1081.0 438.3 L1078.1 442.5 L1075.7 446.5 L1073.6 450.5 L1071.9 454.5 L1070.5 458.4 L1069.3 462.0 L1068.3 465.4 L1067.5 468.3 L1066.8 470.7 L1066.2 472.5 L1075.8 475.5 L1076.4 473.5 L1077.1 471.0 L1077.9 468.1 L1078.8 465.0 L1079.9 461.6 L1081.1 458.2 L1082.6 454.8 L1084.3 451.5 L1086.5 448.0 L1089.2 444.1 L1092.2 440.0 L1095.5 435.8 L1098.8 431.5 L1102.1 427.4 L1105.1 423.5 L1107.8 420.0 L1110.1 416.9 L1112.1 414.0 L1114.0 411.5 L1115.7 409.1 L1117.3 406.9 L1118.8 404.8 L1120.3 402.8 L1121.9 400.8 L1123.5 398.8 L1125.1 397.0 L1126.7 395.4 L1128.2 393.9 L1129.7 392.3 L1131.2 390.7 L1132.8 389.0 L1134.4 386.9 L1136.2 384.6 L1138.2 381.9 L1140.3 378.9 L1142.6 375.8 L1144.8 372.5 L1147.1 369.2 L1149.2 366.0 L1151.2 362.9 L1153.0 359.9 L1154.6 357.0 L1156.1 354.2 L1157.6 351.4 L1158.9 348.7 L1160.1 346.2 L1161.3 343.7 L1162.4 341.3 L1163.6 338.9 L1164.7 336.4 L1165.8 333.9 L1166.8 331.6 L1167.7 329.5 L1168.5 327.6 L1169.1 326.1 L1169.6 324.9 Z"/><circle cx="1165" cy="323" r="5.0"/><circle cx="1071" cy="474" r="5.0"/>
<path d="M1213.7 378.4 L1213.4 379.5 L1213.1 380.9 L1212.7 382.5 L1212.2 384.3 L1211.7 386.2 L1211.0 388.1 L1210.3 390.0 L1209.4 391.9 L1208.4 393.8 L1207.2 395.8 L1205.8 398.0 L1204.3 400.2 L1202.8 402.4 L1201.2 404.6 L1199.6 406.9 L1198.0 409.1 L1196.4 411.3 L1194.6 413.5 L1192.7 415.8 L1190.8 418.1 L1189.0 420.5 L1187.2 422.8 L1185.5 425.2 L1184.0 427.7 L1182.7 430.1 L1181.6 432.5 L1180.8 434.8 L1180.1 437.0 L1179.4 439.2 L1178.7 441.4 L1177.9 443.5 L1176.8 445.7 L1175.6 448.0 L1174.1 450.3 L1172.5 452.8 L1170.8 455.3 L1169.0 457.9 L1167.2 460.5 L1165.3 463.1 L1163.6 465.7 L1162.0 468.1 L1160.2 470.4 L1158.4 472.8 L1156.6 475.3 L1154.8 477.8 L1153.1 480.5 L1151.5 483.3 L1150.3 486.3 L1149.4 489.6 L1148.9 493.0 L1148.6 496.4 L1148.5 499.6 L1148.5 502.6 L1148.5 505.3 L1148.5 507.4 L1148.5 508.9 L1158.5 509.1 L1158.5 507.4 L1158.5 505.1 L1158.4 502.5 L1158.4 499.8 L1158.5 496.9 L1158.7 494.2 L1159.1 491.7 L1159.7 489.7 L1160.6 487.7 L1161.7 485.7 L1163.1 483.6 L1164.8 481.5 L1166.5 479.2 L1168.5 477.0 L1170.4 474.7 L1172.4 472.3 L1174.3 470.1 L1176.3 467.9 L1178.4 465.7 L1180.6 463.4 L1182.8 461.1 L1185.0 458.9 L1187.1 456.6 L1189.2 454.3 L1191.1 452.1 L1192.9 450.0 L1194.6 448.0 L1196.3 446.1 L1197.8 444.2 L1199.3 442.3 L1200.7 440.4 L1202.0 438.3 L1203.4 436.1 L1204.7 433.6 L1206.0 430.9 L1207.2 428.1 L1208.5 425.3 L1209.7 422.5 L1210.8 419.6 L1212.0 416.9 L1213.1 414.2 L1214.1 411.5 L1215.1 408.8 L1216.1 406.1 L1217.0 403.5 L1217.9 400.9 L1218.8 398.5 L1219.6 396.1 L1220.4 393.8 L1221.1 391.5 L1221.8 389.4 L1222.5 387.3 L1223.0 385.5 L1223.5 383.9 L1224.0 382.6 L1224.3 381.6 Z"/><circle cx="1219" cy="380" r="5.5"/><circle cx="1153.5" cy="509" r="5.0"/>
<path d="M1225.0 411.6 L1224.1 413.6 L1222.8 416.1 L1221.4 419.1 L1219.8 422.4 L1218.1 425.8 L1216.3 429.1 L1214.6 432.1 L1213.0 434.7 L1211.4 436.9 L1209.5 439.1 L1207.5 441.3 L1205.4 443.4 L1203.2 445.6 L1201.1 447.8 L1199.1 450.0 L1197.3 452.3 L1195.7 454.5 L1194.4 456.8 L1193.2 458.9 L1192.2 460.9 L1191.4 462.7 L1190.7 464.3 L1190.1 465.5 L1189.7 466.5 L1198.3 471.5 L1199.0 470.5 L1199.8 469.3 L1200.7 467.9 L1201.8 466.4 L1202.9 464.7 L1204.1 463.1 L1205.4 461.4 L1206.7 459.7 L1208.2 458.0 L1209.9 456.2 L1211.9 454.1 L1214.1 451.9 L1216.4 449.6 L1218.7 447.0 L1220.9 444.3 L1223.0 441.3 L1224.9 438.1 L1226.8 434.6 L1228.5 431.0 L1230.2 427.3 L1231.7 423.9 L1233.0 420.8 L1234.1 418.2 L1235.0 416.4 Z"/><circle cx="1230" cy="414" r="5.5"/><circle cx="1194" cy="469" r="5.0"/>
<path d="M1098.1 305.3 L1097.6 306.5 L1097.1 307.9 L1096.4 309.6 L1095.6 311.5 L1094.7 313.7 L1093.7 316.0 L1092.5 318.5 L1091.2 321.1 L1089.6 324.2 L1087.6 327.9 L1085.3 332.0 L1083.0 336.1 L1080.7 340.1 L1078.6 343.8 L1076.9 346.9 L1075.6 349.2 L1084.4 354.0 L1085.6 351.8 L1087.3 348.7 L1089.4 345.0 L1091.6 340.9 L1093.9 336.7 L1096.2 332.7 L1098.3 329.0 L1100.0 325.9 L1101.5 323.2 L1102.9 320.8 L1104.2 318.5 L1105.4 316.5 L1106.5 314.6 L1107.5 313.1 L1108.2 311.7 L1108.9 310.7 Z"/><circle cx="1103.5" cy="308" r="6.0"/><circle cx="1080" cy="351.6" r="5.0"/>
</g>
</svg>
<div class="edge1"></div><div class="edge2"></div>
</body></html>
